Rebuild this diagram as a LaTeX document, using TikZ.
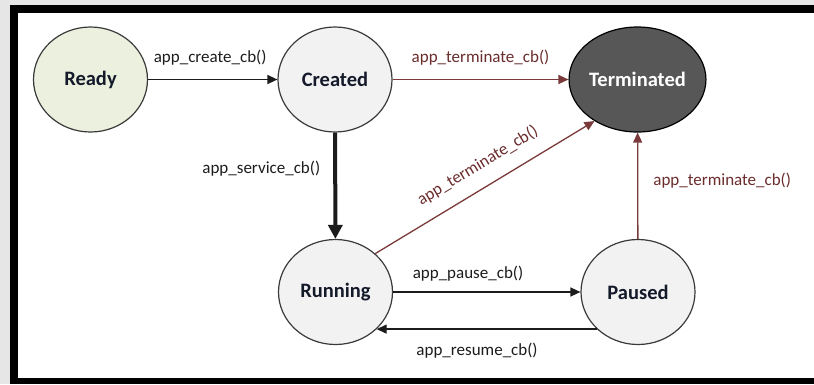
\documentclass[tikz,border=0pt]{standalone}
\usepackage{fontspec}
\setmainfont{Carlito}
\usetikzlibrary{shapes.geometric,arrows.meta}

\definecolor{pageGray}{HTML}{E6E6E6}
\definecolor{readyFill}{HTML}{EBF1DE}
\definecolor{stateFill}{HTML}{F2F2F2}
\definecolor{termFill}{HTML}{575757}
\definecolor{ringGray}{HTML}{3A3A3A}
\definecolor{edgeBlack}{HTML}{1C1C1C}
\definecolor{edgeBrown}{HTML}{7B3A3A}
\definecolor{textBrown}{HTML}{6B2C2C}
\definecolor{stateText}{HTML}{141A2A}

\tikzset{
  state/.style={ellipse, draw=ringGray, line width=1.2pt, fill=stateFill,
    minimum width=114pt, minimum height=105pt, inner sep=0pt,
    text=stateText, font=\bfseries\fontsize{20.5}{24}\selectfont},
  lbl/.style={inner sep=0pt, text=edgeBlack, font=\fontsize{17}{20}\selectfont},
  brownlbl/.style={text=textBrown},
  blackedge/.style={draw=edgeBlack, line width=1.4pt,
    -{Triangle[length=10pt,width=9pt]}},
  thickedge/.style={draw=edgeBlack, line width=4pt,
    -{Triangle[length=14pt,width=14pt]}},
  brownedge/.style={draw=edgeBrown, line width=1.3pt,
    -{Triangle[length=10pt,width=9pt]}}
}

\begin{document}
\begin{tikzpicture}[x=1pt,y=-1pt]
  \useasboundingbox (0,0) rectangle (814,384);
  % window frame
  \fill[pageGray] (0,0) rectangle (814,384);
  \fill[black] (10,5) rectangle (814,384);
  \fill[white] (18,13) rectangle (814,378);

  % states
  \node[state, fill=readyFill] (ready) at (90.5,79.5) {Ready};
  \node[state] (created) at (335,79.5) {Created};
  \node[state, fill=termFill, draw=black, text=white] (term) at (637.5,79.5) {Terminated};
  \node[state] (running) at (335.5,292) {Running};
  \node[state] (paused) at (638,292) {Paused};

  % transitions
  \draw[blackedge] (ready) -- node[lbl, pos=0.48, yshift=21.5pt] {app\_create\_cb()} (created);
  \draw[brownedge] (created) -- node[lbl, brownlbl, pos=0.5, yshift=21.5pt] {app\_terminate\_cb()} (term);
  \draw[thickedge] (created) -- node[lbl, pos=0.34, left=13pt] {app\_service\_cb()} (running);
  \draw[brownedge] (running.44) -- node[lbl, brownlbl, sloped, pos=0.52, above=14pt] {app\_terminate\_cb()} (term.224);
  \draw[brownedge] (paused) -- node[lbl, brownlbl, pos=0.55, right=15pt] {app\_terminate\_cb()} (term);
  \draw[blackedge] (running) -- node[lbl, pos=0.4, yshift=18pt] {app\_pause\_cb()} (paused);
  \draw[blackedge] (paused.222) -- node[lbl, pos=0.544, yshift=-22pt] {app\_resume\_cb()} (running.318);
\end{tikzpicture}
\end{document}
